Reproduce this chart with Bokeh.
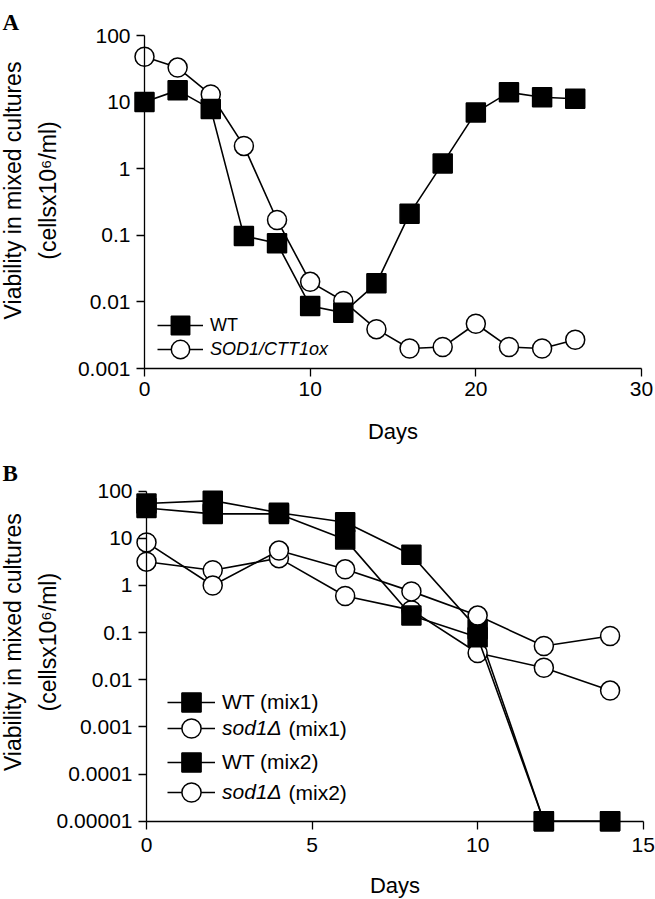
import math
from bokeh.plotting import figure
from bokeh.models import Range1d, FixedTicker, Legend, LegendItem, Label
from bokeh.layouts import column
from bokeh.embed import file_html
from bokeh.resources import INLINE

FONT = "Liberation Sans"
SERIF = "Liberation Serif"

# ---------------- Panel A data ----------------
days_a = [0, 2, 4, 6, 8, 10, 12, 14, 16, 18, 20, 22, 24, 26]
wt_a = [10, 15, 7.9, 0.098, 0.076, 0.0087, 0.0069, 0.019, 0.21, 1.2, 7.0, 14, 11.8, 11.2]
sod_a = [48, 33, 13, 2.2, 0.17, 0.020, 0.0103, 0.0039, 0.0020, 0.0021, 0.0047, 0.0021, 0.0020, 0.0027]
xticks_a = [0, 10, 20, 30]
yticks_a = [0.001, 0.01, 0.1, 1, 10, 100]
ylabels_a = ["0.001", "0.01", "0.1", "1", "10", "100"]
legend_a = ["WT", "SOD1/CTT1ox"]

# ---------------- Panel B data ----------------
days_b = [0, 2, 4, 6, 8, 10, 12, 14]
wt_mix1 = [55, 63, 35, 22, 4.5, 0.12, 0.00001, 0.00001]
sod_mix1 = [3.2, 2.1, 3.8, 0.6, 0.3, 0.037, 0.018, 0.0059]
wt_mix2 = [44, 33, 33, 9.5, 0.23, 0.08, 0.00001, 0.00001]
sod_mix2 = [8.2, 1.0, 5.5, 2.2, 0.75, 0.23, 0.052, 0.085]
xticks_b = [0, 5, 10, 15]
yticks_b = [0.00001, 0.0001, 0.001, 0.01, 0.1, 1, 10, 100]
ylabels_b = ["0.00001", "0.0001", "0.001", "0.01", "0.1", "1", "10", "100"]
legend_b = ["WT", "sod1\u0394", "WT", "sod1\u0394"]
legend_b_suffix = ["(mix1)", "(mix1)", "(mix2)", "(mix2)"]

ytitle1 = "Viability in mixed cultures"
ytitle2 = "(cellsx10\u2076/ml)"
xtitle = "Days"

W = 655


def style_axis(ax, size):
    ax.axis_line_color = "black"
    ax.axis_line_width = 1.3
    ax.major_tick_line_color = "black"
    ax.major_tick_line_width = 1.3
    ax.major_tick_out = 8
    ax.major_tick_in = 0
    ax.minor_tick_line_color = None
    ax.major_label_text_font = FONT
    ax.major_label_text_font_size = size
    ax.major_label_text_color = "black"
    ax.axis_label_text_font = FONT
    ax.axis_label_text_font_style = "normal"
    ax.axis_label_text_font_size = "22px"
    ax.axis_label_text_color = "black"


def base_fig(w, h, xr, yr):
    p = figure(width=w, height=h, x_range=xr, y_range=yr, y_axis_type="log",
               output_backend="svg", toolbar_location=None,
               min_border_left=0, min_border_right=0,
               min_border_top=0, min_border_bottom=0)
    p.grid.visible = False
    p.outline_line_color = None
    p.background_fill_color = "white"
    p.border_fill_color = "white"
    return p


def add_series(p, x, y, marker):
    fill = "black" if marker == "square" else "white"
    ln = p.line(x, y, line_color="black", line_width=1.6)
    sc = p.scatter(x, y, marker=marker, size=19, fill_color=fill,
                   line_color="black", line_width=1.5)
    return [ln, sc]


def make_legend(items, loc, gw, gh, spacing, style, size):
    return Legend(items=items, location=loc, orientation="vertical",
                  glyph_width=gw, glyph_height=gh, spacing=spacing,
                  label_standoff=7, padding=0, margin=0,
                  border_line_color=None, background_fill_alpha=0,
                  label_text_font=FONT, label_text_font_size=size,
                  label_text_font_style=style, label_text_color="black",
                  label_height=20)


def text_label(x, y, text, size, angle=0.0, align="center", baseline="middle",
               font=FONT, style="normal"):
    return Label(x=x, y=y, x_units="screen", y_units="screen", text=text,
                 angle=angle, text_align=align, text_baseline=baseline,
                 text_font=font, text_font_size=size, text_font_style=style,
                 text_color="black")


# ================= Panel A =================
HA = 446
A_X0, A_X30 = 144, 641          # screen x of day 0 and day 30
A_Y100, A_YMIN = 35, 368        # screen y of 100 and 0.001
a_pxu = (A_X30 - A_X0) / 30.0
a_dec = (A_YMIN - A_Y100) / 5.0
pa = base_fig(W, HA,
              Range1d(-A_X0 / a_pxu, 30 + (W - A_X30) / a_pxu),
              Range1d(10 ** (-3 - (HA - A_YMIN) / a_dec), 10 ** (2 + A_Y100 / a_dec)))
for ax in (pa.xaxis[0], pa.yaxis[0]):
    style_axis(ax, "21px")
pa.xaxis.ticker = FixedTicker(ticks=xticks_a)
pa.xaxis.bounds = (0, 30)
pa.xaxis.fixed_location = 0.001
pa.xaxis.major_label_standoff = 5
pa.xaxis.axis_label = xtitle
pa.xaxis.axis_label_standoff = 20
pa.yaxis.ticker = FixedTicker(ticks=yticks_a)
pa.yaxis.major_label_overrides = {t: s for t, s in zip(yticks_a, ylabels_a)}
pa.yaxis.major_label_standoff = 6
pa.yaxis.bounds = (0.001, 100)
pa.yaxis.fixed_location = 0

r_sod_a = add_series(pa, days_a, sod_a, "circle")
r_wt_a = add_series(pa, days_a, wt_a, "square")

pa.add_layout(make_legend([LegendItem(label=legend_a[0], renderers=r_wt_a)],
                          (157, HA - 349), 46, 48, 0, "normal", "18px"))
pa.add_layout(make_legend([LegendItem(label=legend_a[1], renderers=r_sod_a)],
                          (157, HA - 373), 46, 48, 0, "italic", "18px"))

pa.add_layout(text_label(12.5, HA - 190, ytitle1, "23px", angle=math.pi / 2))
pa.add_layout(text_label(47, HA - 190, ytitle2, "23px", angle=math.pi / 2))
pa.add_layout(text_label(2, HA - 21.7, "A", "23px", align="left",
                         baseline="alphabetic", font=SERIF, style="bold"))

# ================= Panel B =================
HB = 453
B_TOP = HA                      # page y where panel B starts
B_X0, B_X15 = 146, 642.7
B_Y100, B_YMIN = 490.7 - B_TOP, 820.7 - B_TOP
b_pxu = (B_X15 - B_X0) / 15.0
b_dec = (B_YMIN - B_Y100) / 7.0
pb = base_fig(W, HB,
              Range1d(-B_X0 / b_pxu, 15 + (W - B_X15) / b_pxu),
              Range1d(10 ** (-5 - (HB - B_YMIN) / b_dec), 10 ** (2 + B_Y100 / b_dec)))
for ax in (pb.xaxis[0], pb.yaxis[0]):
    style_axis(ax, "21px")
pb.xaxis.ticker = FixedTicker(ticks=xticks_b)
pb.xaxis.bounds = (0, 15)
pb.xaxis.fixed_location = 0.00001
pb.xaxis.major_label_standoff = 9
pb.xaxis.axis_label = xtitle
pb.xaxis.axis_label_standoff = 17
pb.yaxis.ticker = FixedTicker(ticks=yticks_b)
pb.yaxis.major_label_overrides = {t: s for t, s in zip(yticks_b, ylabels_b)}
pb.yaxis.major_label_standoff = 6
pb.yaxis.bounds = (0.00001, 100)
pb.yaxis.fixed_location = 0

r_wt1 = add_series(pb, days_b, wt_mix1, "square")
r_sod1 = add_series(pb, days_b, sod_mix1, "circle")
r_wt2 = add_series(pb, days_b, wt_mix2, "square")
r_sod2 = add_series(pb, days_b, sod_mix2, "circle")

row_b = [701.7 - B_TOP, 727.7 - B_TOP, 761.7 - B_TOP, 791.7 - B_TOP]
pb.add_layout(make_legend([LegendItem(label=legend_b[0] + " " + legend_b_suffix[0], renderers=r_wt1),
                           LegendItem(label=legend_b[2] + " " + legend_b_suffix[2], renderers=r_wt2)],
                          (167, HB - (row_b[2] + 24)), 48, 48, 12, "normal", "21px"))
pb.add_layout(make_legend([LegendItem(label=legend_b[1], renderers=r_sod1),
                           LegendItem(label=legend_b[3], renderers=r_sod2)],
                          (167, HB - (row_b[3] + 24)), 48, 48, 16, "italic", "21px"))
pb.add_layout(text_label(288, HB - row_b[1], legend_b_suffix[1], "21px", align="left"))
pb.add_layout(text_label(288, HB - row_b[3], legend_b_suffix[3], "21px", align="left"))

pb.add_layout(text_label(12.5, HB - (641.7 - B_TOP), ytitle1, "23px", angle=math.pi / 2))
pb.add_layout(text_label(47, HB - (641.7 - B_TOP), ytitle2, "23px", angle=math.pi / 2))
pb.add_layout(text_label(2, HB - (473.3 - B_TOP), "B", "23px", align="left",
                         baseline="alphabetic", font=SERIF, style="bold"))

layout = column(pa, pb, spacing=0)
open("out.html", "w").write(file_html(layout, INLINE))
